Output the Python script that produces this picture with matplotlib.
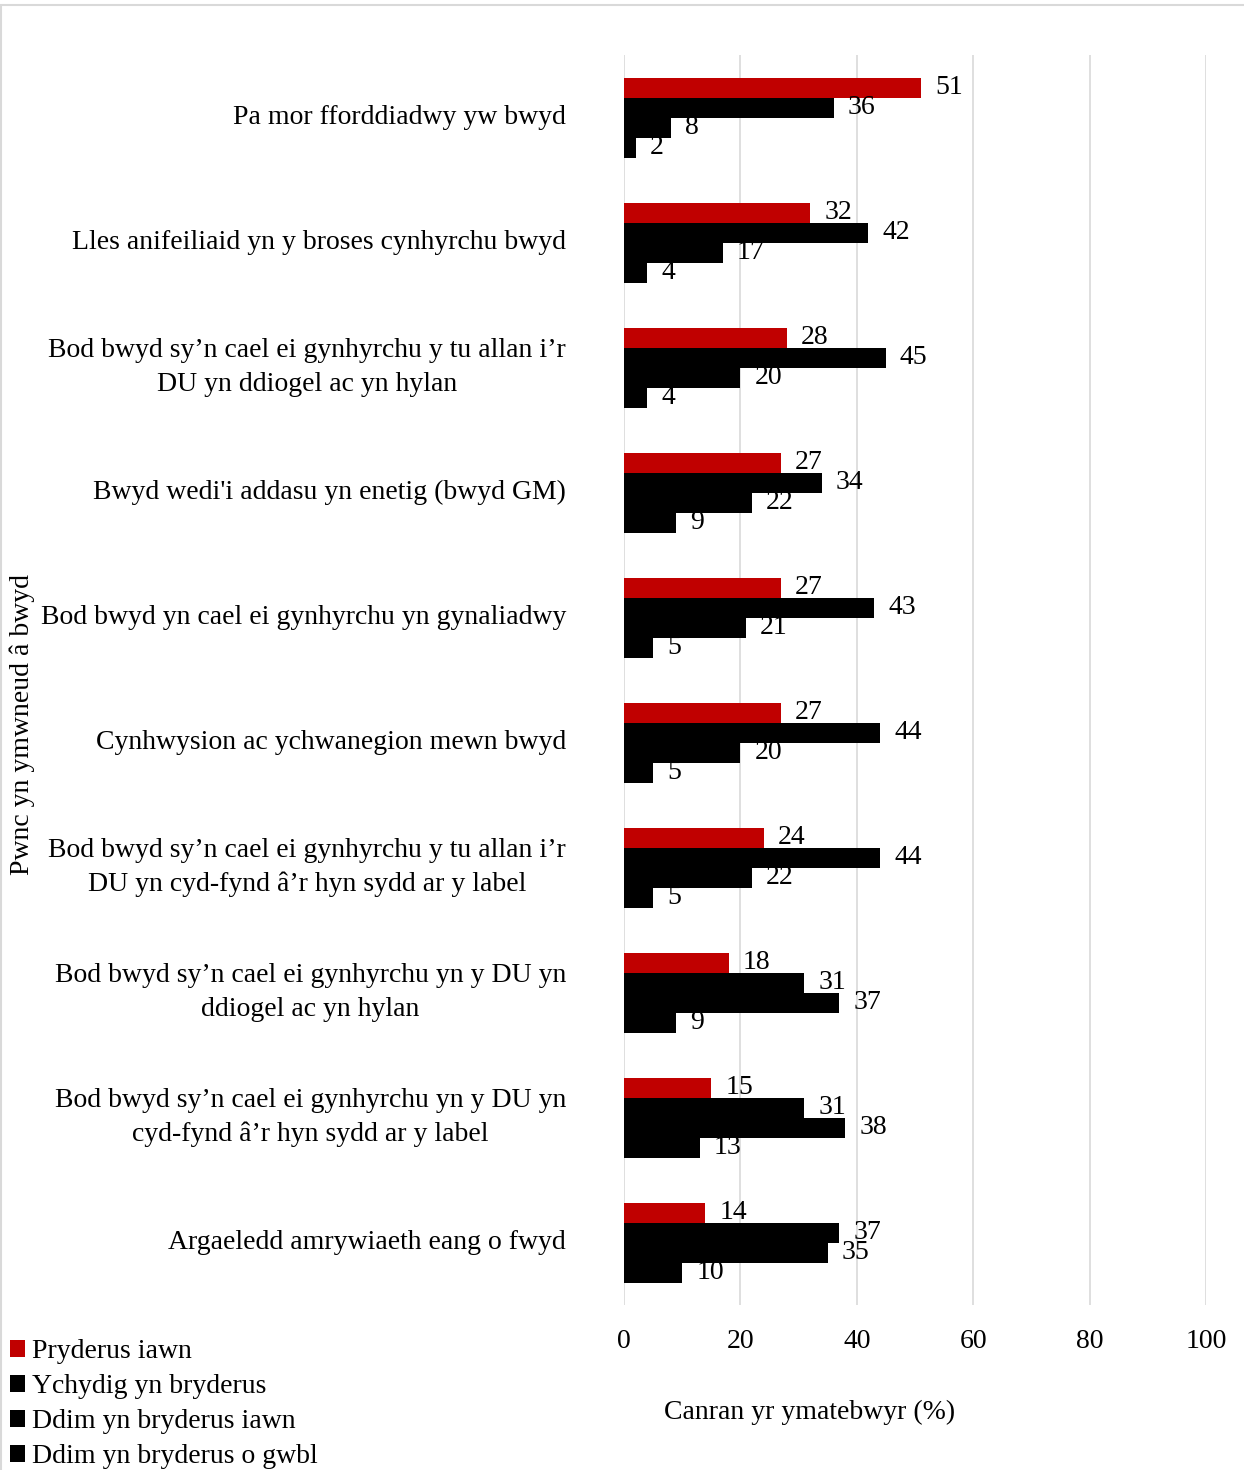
import matplotlib
matplotlib.use("Agg")
import matplotlib.pyplot as plt
import numpy as np
from matplotlib.patches import Rectangle

plt.rcParams['font.family'] = ['Liberation Serif', 'DejaVu Serif']

# data, top to bottom as in the chart
categories = [
    "Pa mor fforddiadwy yw bwyd",
    "Lles anifeiliaid yn y broses cynhyrchu bwyd",
    "Bod bwyd sy’n cael ei gynhyrchu y tu allan i’r\nDU yn ddiogel ac yn hylan",
    "Bwyd wedi'i addasu yn enetig (bwyd GM)",
    "Bod bwyd yn cael ei gynhyrchu yn gynaliadwy",
    "Cynhwysion ac ychwanegion mewn bwyd",
    "Bod bwyd sy’n cael ei gynhyrchu y tu allan i’r\nDU yn cyd-fynd â’r hyn sydd ar y label",
    "Bod bwyd sy’n cael ei gynhyrchu yn y DU yn\nddiogel ac yn hylan",
    "Bod bwyd sy’n cael ei gynhyrchu yn y DU yn\ncyd-fynd â’r hyn sydd ar y label",
    "Argaeledd amrywiaeth eang o fwyd",
]
series_names = ["Pryderus iawn", "Ychydig yn bryderus",
                "Ddim yn bryderus iawn", "Ddim yn bryderus o gwbl"]
pryderus_iawn = [51, 32, 28, 27, 27, 27, 24, 18, 15, 14]
ychydig = [36, 42, 45, 34, 43, 44, 44, 31, 31, 37]
ddim_iawn = [8, 17, 20, 22, 21, 20, 22, 37, 38, 35]
ddim_gwbl = [2, 4, 4, 9, 5, 5, 5, 9, 13, 10]
values = [pryderus_iawn, ychydig, ddim_iawn, ddim_gwbl]
colors = ['#C00000', '#000000', '#000000', '#000000']

fs = 20
W, H = 1244, 1470
fig = plt.figure(figsize=(W/100, H/100), dpi=100)
ax = fig.add_axes([624/W, 1 - 1305/H, 582/W, 1250/H])

n = len(categories)
y = np.arange(n)
h = 0.16
for i, (vals, col, name) in enumerate(zip(values, colors, series_names)):
    pos = y - 1.5*h + i*h
    ax.barh(pos, vals, height=h, color=col, label=name, zorder=3)
    for p, v in zip(pos, vals):
        ax.annotate(str(v), (v, p), xytext=(14, 0), textcoords='offset pixels',
                    va='center', ha='left', fontsize=fs)

ax.set_ylim(n - 0.5, -0.5)
ax.set_xlim(0, 100)
ax.set_xticks([0, 20, 40, 60, 80, 100])
ax.tick_params(axis='x', length=0, labelsize=fs, pad=17)
ax.set_yticks([])
ax.grid(axis='x', color='#D9D9D9', linewidth=1.2, zorder=0)
for s in ax.spines.values():
    s.set_visible(False)

for yi, lab in zip(y, categories):
    ax.annotate(lab, (0, yi), xytext=(-58, 0), textcoords='offset pixels',
                ha='right', va='center', multialignment='center', fontsize=fs,
                annotation_clip=False, linespacing=1.45)

fig.text(810/W, 1 - 1412/H, "Canran yr ymatebwyr (%)", ha='center',
         va='center', fontsize=fs)
fig.text(22/W, 1 - 724/H, "Pwnc yn ymwneud â bwyd", rotation=90,
         ha='center', va='center', fontsize=fs)

fig.legend(loc='upper left', bbox_to_anchor=(10/W, 1 - 1339/H), frameon=False,
           fontsize=fs, handlelength=0.55, handleheight=0.55, handletextpad=0.25,
           labelspacing=0.36, borderaxespad=0, borderpad=0)

fig.patches.append(Rectangle((1/W, -0.01), 1.1, 1 + 0.01 - 5/H,
                             transform=fig.transFigure, fill=False,
                             edgecolor='#D9D9D9', linewidth=1.5))

fig.savefig("out.png", dpi=100)
